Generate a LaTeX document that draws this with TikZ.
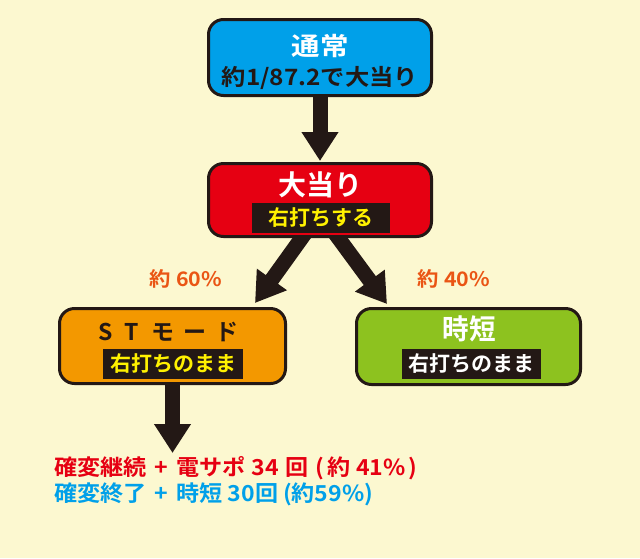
\documentclass[tikz,border=0pt]{standalone}
\usepackage{fontspec}
\setmainfont{Noto Sans CJK JP}[BoldFont={Noto Sans CJK JP Bold}]
\usetikzlibrary{arrows.meta}
\definecolor{bg}{HTML}{FCF8D0}
\definecolor{ink}{HTML}{231815}
\definecolor{cblue}{HTML}{00A0E9}
\definecolor{cred}{HTML}{E60012}
\definecolor{corange}{HTML}{F39800}
\definecolor{cgreen}{HTML}{8DC21F}
\definecolor{cyel}{HTML}{FFF100}
\definecolor{clab}{HTML}{EA5514}
\tikzset{
  box/.style={draw=ink, line width=3pt, rounded corners=15pt, inner sep=0pt},
  tag/.style={fill=ink, inner sep=0pt, minimum height=30pt},
  bigarrow/.style={draw=ink, line width=15pt, -{Triangle[width=35pt,length=29pt]}},
  pct/.style={text=clab, font=\bfseries\fontsize{20}{20}\selectfont\addfontfeatures{FakeStretch=1.07}},
  res/.style={anchor=west, font=\bfseries\fontsize{22}{22}\selectfont\addfontfeatures{FakeStretch=1.05}},
}
\begin{document}
\begin{tikzpicture}[x=1pt,y=-1pt]
\fill[bg] (0,0) rectangle (640,558);
\useasboundingbox (0,0) rectangle (640,558);

% arrows (drawn first, boxes on top)
\coordinate (s0) at (320,90);
\coordinate (e0) at (320,161);
\coordinate (s1) at (306,232);
\coordinate (e1) at (255,303);
\coordinate (s2) at (334,232);
\coordinate (e2) at (387,304);
\coordinate (s3) at (172.5,380);
\coordinate (e3) at (172.5,453);
\draw[bigarrow] (s0) -- (e0);
\draw[bigarrow] (s1) -- (e1);
\draw[bigarrow] (s2) -- (e2);
\draw[bigarrow] (s3) -- (e3);

% boxes
\node[box, fill=cblue, minimum width=223pt, minimum height=76pt] (tsujo) at (320,57.5) {};
\node[box, fill=cred, minimum width=223pt, minimum height=73pt] (ootari) at (320,200) {};
\node[box, fill=corange, minimum width=226pt, minimum height=75pt] (st) at (172.5,346) {};
\node[box, fill=cgreen, minimum width=224pt, minimum height=76pt] (jitan) at (468.5,346.5) {};

% texts
\node[text=white, font=\bfseries\fontsize{25}{25}\selectfont\addfontfeatures{FakeStretch=1.14}] (tsujoT) at (320,46) {通常};
\node[text=ink, font=\bfseries\fontsize{22.5}{22.5}\selectfont\addfontfeatures{FakeStretch=1.08}] (tsujoS) at (320,78) {約1/87.2で大当り};

\node[text=white, font=\bfseries\fontsize{28}{28}\selectfont] (ootariT) at (320,185) {大当り};
\node[tag, minimum width=138pt, text=cyel, font=\bfseries\fontsize{21}{21}\selectfont] (ootariS) at (320.5,218) {右打ちする};

\node[text=ink, font=\bfseries\fontsize{23}{23}\selectfont] (stT) at (168.5,332) {S\hspace{12pt}T\hspace{12pt}モ\hspace{9pt}ー\hspace{9pt}ド};
\node[tag, minimum width=140pt, text=cyel, font=\bfseries\fontsize{21}{21}\selectfont] (stS) at (173,364) {右打ちのまま};

\node[text=white, font=\bfseries\fontsize{28}{28}\selectfont\addfontfeatures{FakeStretch=0.95}] (jitanT) at (469,329) {時短};
\node[tag, minimum width=139pt, text=white, font=\bfseries\fontsize{21}{21}\selectfont] (jitanS) at (471.5,363.5) {右打ちのまま};

\node[pct] (p60) at (186,279) {約 60\%};
\node[pct] (p40) at (454,279) {約 40\%};

\node[res, text=cred] (res1) at (51,468) {確変継続\hspace{8pt}+\hspace{8pt}電サポ\hspace{6pt}34\hspace{6pt}回\hspace{7pt}(\hspace{4pt}約\hspace{5pt}41\%\hspace{3pt})};
\node[res, text=cblue] (res2) at (51,494) {確変終了\hspace{8pt}+\hspace{8pt}時短\hspace{5pt}30回\hspace{5pt}(約59\%)};
\end{tikzpicture}
\end{document}
